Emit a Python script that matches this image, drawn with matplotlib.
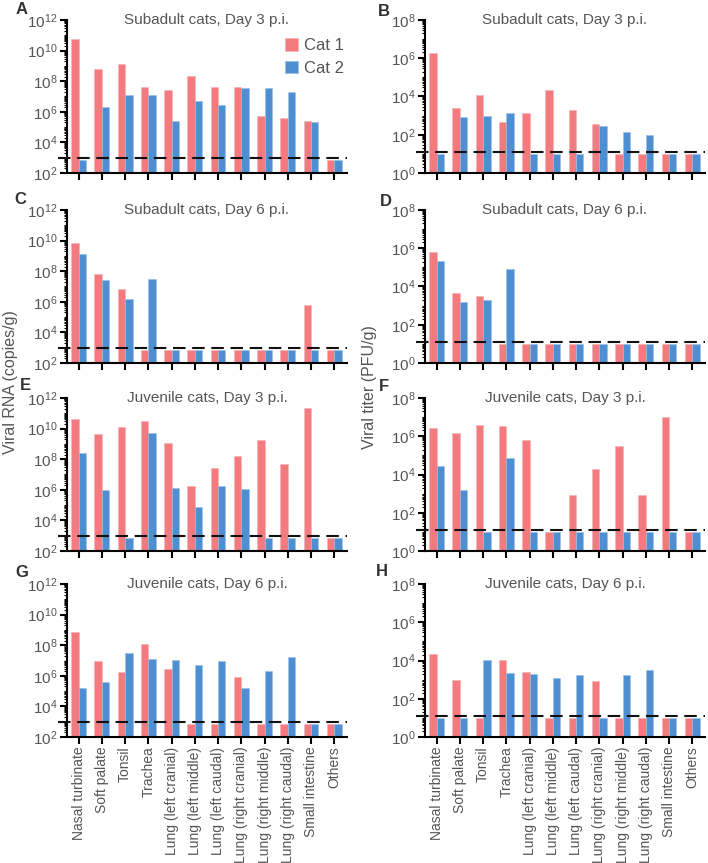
import matplotlib
matplotlib.use('Agg')
import matplotlib.pyplot as plt
from matplotlib.ticker import FixedLocator, FuncFormatter, NullFormatter
import numpy as np

plt.rcParams['font.family'] = ['Liberation Sans', 'DejaVu Sans']
plt.rcParams['mathtext.fontset'] = 'custom'
plt.rcParams['mathtext.rm'] = 'Liberation Sans'
plt.rcParams['mathtext.it'] = 'Liberation Sans:italic'

tissues = ['Nasal turbinate', 'Soft palate', 'Tonsil', 'Trachea',
           'Lung (left cranial)', 'Lung (left middle)', 'Lung (left caudal)',
           'Lung (right cranial)', 'Lung (right middle)', 'Lung (right caudal)',
           'Small intestine', 'Others']

# viral RNA (copies/g); 7.5e2 = below detection
rna_a_cat1 = [6e10, 6.6e8, 1.3e9, 4.5e7, 2.5e7, 2.2e8, 4e7, 4.2e7, 5e5, 4e5, 2.7e5, 7.5e2]
rna_a_cat2 = [7.5e2, 2.2e6, 1.3e7, 1.2e7, 2.7e5, 5e6, 3e6, 3.8e7, 3.8e7, 2e7, 2.2e5, 7.5e2]
rna_c_cat1 = [6.9e9, 7e7, 7e6, 7.5e2, 7.5e2, 7.5e2, 7.5e2, 7.5e2, 7.5e2, 7.5e2, 6.3e5, 7.5e2]
rna_c_cat2 = [1.26e9, 2.8e7, 1.5e6, 3e7, 7.5e2, 7.5e2, 7.5e2, 7.5e2, 7.5e2, 7.5e2, 7.5e2, 7.5e2]
rna_e_cat1 = [4.5e10, 4.3e9, 1.35e10, 3e10, 1.2e9, 1.9e6, 2.6e7, 1.65e8, 1.9e9, 4.7e7, 2.1e11, 7.5e2]
rna_e_cat2 = [2.7e8, 1e6, 7.5e2, 5.5e9, 1.4e6, 7e4, 1.8e6, 1.2e6, 7.5e2, 7.5e2, 7.5e2, 7.5e2]
rna_g_cat1 = [7.5e8, 9e6, 1.8e6, 1.2e8, 2.7e6, 7.5e2, 7.5e2, 8.5e5, 7.5e2, 7.5e2, 7.5e2, 7.5e2]
rna_g_cat2 = [1.7e5, 3.9e5, 3.2e7, 1.2e7, 1.05e7, 5e6, 1e7, 1.7e5, 2.2e6, 1.8e7, 7.5e2, 7.5e2]

# viral titer (PFU/g); 10 = below detection
pfu_b_cat1 = [1.8e6, 2.5e3, 1.26e4, 4.8e2, 1.4e3, 2.3e4, 1.9e3, 3.7e2, 10, 10, 10, 10]
pfu_b_cat2 = [10, 9e2, 1e3, 1.3e3, 10, 10, 10, 2.8e2, 1.4e2, 93, 10, 10]
pfu_d_cat1 = [6e5, 4.8e3, 3.2e3, 10, 10, 10, 10, 10, 10, 10, 10, 10]
pfu_d_cat2 = [2.1e5, 1.55e3, 1.9e3, 8.5e4, 10, 10, 10, 10, 10, 10, 10, 10]
pfu_f_cat1 = [2.7e6, 1.5e6, 4e6, 3.6e6, 6.6e5, 10, 9e2, 1.9e4, 3.2e5, 9e2, 1e7, 10]
pfu_f_cat2 = [2.7e4, 1.55e3, 10, 7.4e4, 10, 10, 10, 10, 10, 10, 10, 10]
pfu_h_cat1 = [2.3e4, 1e3, 10, 1.1e4, 2.4e3, 10, 10, 9e2, 10, 10, 10, 10]
pfu_h_cat2 = [10, 10, 1.05e4, 2.1e3, 1.9e3, 1.2e3, 1.8e3, 10, 1.8e3, 3.2e3, 10, 10]

rna_lod = 1e3
pfu_lod = 12.6

titles = ['Subadult cats, Day 3 p.i.', 'Subadult cats, Day 6 p.i.',
          'Juvenile cats, Day 3 p.i.', 'Juvenile cats, Day 6 p.i.']

RED = '#F37B80'
BLUE = '#4E8FD1'
GRAY = '#555555'

fig = plt.figure(figsize=(7.08, 8.63), dpi=100)
W, H = 708, 863
row_tops = [20, 210, 398, 584]
ax_h = 153
col_left = [67, 425]
ax_w = 280

rna_sets = [(rna_a_cat1, rna_a_cat2), (rna_c_cat1, rna_c_cat2),
            (rna_e_cat1, rna_e_cat2), (rna_g_cat1, rna_g_cat2)]
pfu_sets = [(pfu_b_cat1, pfu_b_cat2), (pfu_d_cat1, pfu_d_cat2),
            (pfu_f_cat1, pfu_f_cat2), (pfu_h_cat1, pfu_h_cat2)]
letters = [('A', 'B'), ('C', 'D'), ('E', 'F'), ('G', 'H')]
letter_pos = [((22, 10), (384, 12)), ((20, 200), (386, 201)),
              ((25, 385), (384, 386)), ((22, 572), (382, 571))]

x = np.arange(len(tissues))
bw = 0.32

def sci(v, pos):
    return r'$\mathregular{10^{%d}}$' % int(round(np.log10(v)))

def draw(ax, c1, c2, ymin, ymax, lod, title, bottom_row):
    ax.set_yscale('log')
    ax.bar(x - bw / 2, np.array(c1) - ymin, bw, bottom=ymin, color=RED,
           edgecolor='#f7b0b3', linewidth=0.4, label='Cat 1')
    ax.bar(x + bw / 2, np.array(c2) - ymin, bw, bottom=ymin, color=BLUE,
           edgecolor='#9cc0e6', linewidth=0.4, label='Cat 2')
    ax.set_ylim(ymin, ymax)
    ax.set_xlim(-0.5, 11.55)
    ax.plot([-0.88, 11.55], [lod, lod], color='#111111', lw=1.5,
            dashes=(6, 3.2), clip_on=False, zorder=5)
    lo, hi = int(np.log10(ymin)), int(np.log10(ymax))
    ax.yaxis.set_major_locator(FixedLocator([10.0 ** k for k in range(lo, hi + 1, 2)]))
    minors = [m * 10.0 ** k for k in range(lo, hi) for m in range(1, 10)
              if not (m == 1 and (k - lo) % 2 == 0)]
    ax.yaxis.set_minor_locator(FixedLocator(minors))
    ax.yaxis.set_major_formatter(FuncFormatter(sci))
    ax.yaxis.set_minor_formatter(NullFormatter())
    ax.tick_params(axis='y', which='major', length=5, width=1.5, labelsize=11,
                   labelcolor=GRAY, pad=2)
    ax.tick_params(axis='y', which='minor', length=2.5, width=0.8)
    ax.tick_params(axis='x', length=5, width=1.5, labelsize=10, labelcolor=GRAY,
                   pad=2)
    ax.set_xticks(x)
    if bottom_row:
        ax.set_xticklabels(tissues, rotation=90)
    else:
        ax.set_xticklabels([])
    for s in ['top', 'right']:
        ax.spines[s].set_visible(False)
    for s in ['left', 'bottom']:
        ax.spines[s].set_linewidth(1.5)
    ax.text(0.5, 1.0, title, transform=ax.transAxes, ha='center', va='center',
            fontsize=11, color=GRAY)

for r in range(4):
    bot = 1 - (row_tops[r] + ax_h) / H
    axl = fig.add_axes([col_left[0] / W, bot, ax_w / W, ax_h / H])
    draw(axl, rna_sets[r][0], rna_sets[r][1], 1e2, 1e12, rna_lod, titles[r], r == 3)
    axr = fig.add_axes([col_left[1] / W, bot, ax_w / W, ax_h / H])
    draw(axr, pfu_sets[r][0], pfu_sets[r][1], 1e0, 1e8, pfu_lod, titles[r], r == 3)
    if r == 0:
        axl.legend(loc='upper right', bbox_to_anchor=(1.02, 0.935), frameon=False,
                   fontsize=12, handlelength=0.75, handleheight=0.75,
                   handletextpad=0.4, labelspacing=0.45, borderpad=0,
                   labelcolor=GRAY)
    for (lx, ly), lt in zip(letter_pos[r], letters[r]):
        fig.text(lx / W, 1 - ly / H, lt, ha='center', va='center',
                 fontsize=12, fontweight='bold', color='#333333')

fig.text(11 / W, 1 - 382 / H, 'Viral RNA (copies/g)', rotation=90,
         ha='center', va='center', fontsize=11.5, color=GRAY)
fig.text(369 / W, 1 - 387 / H, 'Viral titer (PFU/g)', rotation=90,
         ha='center', va='center', fontsize=11.5, color=GRAY)

fig.savefig('out.png', dpi=100)
